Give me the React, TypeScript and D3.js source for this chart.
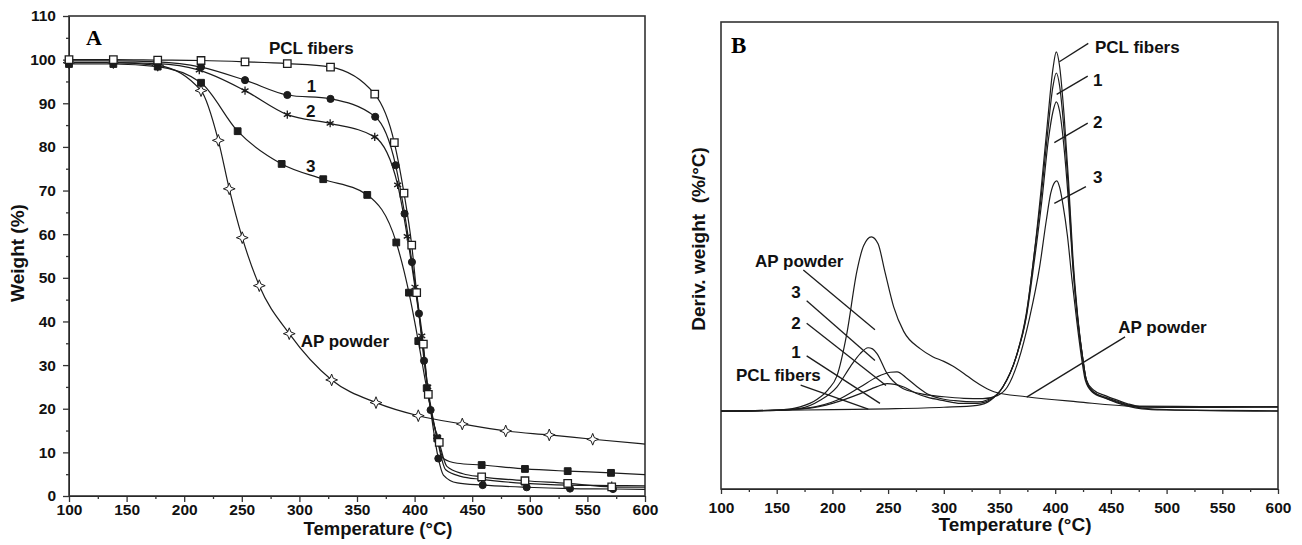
import React, { useEffect, useRef } from 'react';
import * as d3 from 'd3';

// ---- panel A: TGA, weight (%) vs temperature (°C) ----
// point = [temperature, weight, marker shown (1) or not (0)]
const pclFibersTga = [
  [100, 100, 1], [138.5, 100, 1], [177, 99.9, 1], [214.6, 99.8, 1], [252.8, 99.5, 1],
  [289.5, 99.1, 1], [327, 98.3, 1], [365.4, 92.1, 1], [382.4, 81, 1], [390.8, 69.4, 1],
  [397.5, 57.5, 1], [401.8, 46.6, 1], [407.6, 34.8, 1], [411.9, 23.3, 1], [421.4, 12.3, 1],
  [428, 6.8, 0], [442, 5.1, 0], [458.2, 4.4, 1], [495.8, 3.5, 1], [532.9, 2.9, 1],
  [571.1, 2.1, 1], [600, 2.0, 0],
];
const sample1Tga = [
  [100, 99.7, 1], [138.5, 99.7, 1], [177, 99.5, 1], [214.6, 98.3, 1], [252.8, 95.3, 1],
  [289.5, 91.9, 1], [327, 91.0, 1], [365.8, 86.9, 1], [383.5, 75.8, 1], [391.3, 64.7, 1],
  [397.7, 53.6, 1], [403.8, 41.8, 1], [408.2, 31.0, 1], [413.9, 19.7, 1], [420.6, 8.6, 1],
  [425, 4.8, 0], [437, 3.0, 0], [459.1, 2.5, 1], [497.3, 2.0, 1], [534.9, 1.7, 1],
  [572.2, 1.6, 1], [600, 1.5, 0],
];
const sample2Tga = [
  [100, 99.3, 1], [138.5, 99.3, 1], [177, 99.1, 1], [213.1, 97.6, 1], [252.8, 92.9, 1],
  [289.5, 87.4, 1], [326.7, 85.4, 1], [365.4, 82.3, 1], [385.3, 71.3, 1], [393.6, 59.5, 1],
  [400.3, 47.9, 1], [406.2, 36.7, 1], [411.4, 25.0, 1], [419.2, 13.6, 1], [427, 6.0, 0],
  [440, 4.5, 0], [458.2, 3.8, 1], [495.8, 2.9, 1], [532.9, 2.5, 1], [571.1, 2.4, 1],
  [600, 2.3, 0],
];
const sample3Tga = [
  [100, 99.0, 1], [138.5, 99.0, 1], [177, 98.4, 1], [214.6, 94.7, 1], [246.4, 83.6, 1],
  [284.6, 76.1, 1], [320.7, 72.6, 1], [358.9, 69.0, 1], [384.1, 58.1, 1], [395.1, 46.6, 1],
  [403.2, 35.5, 1], [410.5, 24.7, 1], [419.7, 13.2, 1], [425, 8.6, 0], [437, 7.5, 0],
  [458.2, 7.1, 1], [495.8, 6.2, 1], [532.9, 5.7, 1], [570.5, 5.3, 1], [600, 4.9, 0],
];
const apPowderTga = [
  [100, 99.3, 1], [138.5, 99.3, 1], [177, 98.7, 1], [214.6, 92.9, 1], [229.6, 81.5, 1],
  [239.1, 70.4, 1], [250.4, 59.2, 1], [265.2, 48.2, 1], [291.2, 37.2, 1], [328, 26.6, 1],
  [366.5, 21.4, 1], [403.2, 18.4, 1], [441.4, 16.5, 1], [479.1, 14.9, 1], [516.9, 14.0, 1],
  [554.6, 13.0, 1], [600, 11.9, 0],
];

// ---- panel B: DTG, derivative weight (arbitrary units) ----
const pclFibersDtg = [
  [100, 0], [150, 0.002], [200, 0.004], [250, 0.006], [300, 0.01], [330, 0.015], [342, 0.028],
  [353, 0.062], [365, 0.14], [374, 0.25], [381, 0.4], [387, 0.56], [393, 0.74], [398, 0.88],
  [401, 0.923], [404, 0.885], [408, 0.76], [412, 0.59], [416, 0.39], [420, 0.25], [425, 0.13],
  [428, 0.08], [434, 0.055], [445, 0.04], [455, 0.029], [465, 0.019], [478, 0.011],
  [500, 0.01], [550, 0.01], [600, 0.011],
];
const sample1Dtg = [
  [100, 0], [150, 0.003], [180, 0.008], [200, 0.02], [225, 0.045], [240, 0.063], [249, 0.071],
  [256, 0.069], [264, 0.062], [275, 0.046], [285, 0.036], [300, 0.027], [315, 0.02], [330, 0.02],
  [342, 0.03], [353, 0.062], [365, 0.14], [374, 0.245], [381, 0.4], [387, 0.54], [393, 0.71],
  [398, 0.835], [401, 0.869], [404, 0.835], [408, 0.72], [412, 0.565], [416, 0.375], [420, 0.245],
  [425, 0.13], [428, 0.078], [434, 0.05], [445, 0.036], [455, 0.026], [465, 0.017],
  [478, 0.011], [500, 0.01], [550, 0.01], [600, 0.011],
];
const sample2Dtg = [
  [100, 0], [150, 0.003], [177, 0.008], [204, 0.028], [225, 0.062], [240, 0.088], [252, 0.1],
  [258, 0.101], [267, 0.084], [276, 0.063], [285, 0.045], [298, 0.032], [310, 0.027], [330, 0.024],
  [342, 0.032], [353, 0.062], [365, 0.14], [374, 0.24], [381, 0.38], [388, 0.54], [394, 0.7],
  [398, 0.77], [401, 0.795], [404, 0.77], [408, 0.675], [412, 0.535], [416, 0.365], [420, 0.24],
  [425, 0.13], [428, 0.08], [434, 0.05], [445, 0.034], [455, 0.024], [465, 0.015],
  [478, 0.008], [500, 0.004], [550, 0.002], [600, 0.001],
];
const sample3Dtg = [
  [100, 0], [150, 0.002], [171, 0.007], [189, 0.028], [204, 0.062], [216, 0.114], [225, 0.148],
  [232, 0.163], [236, 0.16], [240, 0.148], [249, 0.097], [261, 0.062], [279, 0.045], [300, 0.037],
  [318, 0.033], [335, 0.032], [348, 0.04], [357, 0.062], [367, 0.13], [377, 0.24], [386, 0.37],
  [392, 0.49], [396, 0.56], [399.5, 0.588], [401.5, 0.592], [404, 0.575], [407, 0.53],
  [411, 0.45], [415, 0.34], [419, 0.24], [424, 0.13], [427, 0.08], [433, 0.05], [445, 0.033],
  [455, 0.022], [465, 0.013], [478, 0.006], [500, 0.003], [550, 0.001], [600, 0],
];
const apPowderDtg = [
  [100, 0], [130, 0.001], [153, 0.003], [171, 0.011], [186, 0.03], [196, 0.055], [204, 0.09],
  [213, 0.2], [222, 0.36], [228, 0.425], [235, 0.448], [241, 0.43], [247, 0.36], [255, 0.268],
  [264, 0.205], [279, 0.16], [290, 0.14], [300, 0.128], [308, 0.116], [318, 0.097],
  [327, 0.078], [336, 0.062], [345, 0.05], [374, 0.037], [420, 0.024], [470, 0.013],
  [530, 0.012], [600, 0.011],
];

const tempTicks = [100, 150, 200, 250, 300, 350, 400, 450, 500, 550, 600];
const tempMinorTicks = [125, 175, 225, 275, 325, 375, 425, 475, 525, 575];
const weightTicks = [0, 10, 20, 30, 40, 50, 60, 70, 80, 90, 100, 110];
const weightMinorTicks = [5, 15, 25, 35, 45, 55, 65, 75, 85, 95, 105];

const SANS = '"Liberation Sans", Arial, sans-serif';
const SERIF = '"Liberation Serif", "Times New Roman", serif';
const INK = '#1c1c1c';

// open 4-point star used for AP powder markers
const sparkle = {
  draw(ctx, size) {
    const r = Math.sqrt(size) * 0.62;
    const i = r * 0.28;
    ctx.moveTo(0, -r);
    ctx.lineTo(i, -i);
    ctx.lineTo(r, 0);
    ctx.lineTo(i, i);
    ctx.lineTo(0, r);
    ctx.lineTo(-i, i);
    ctx.lineTo(-r, 0);
    ctx.lineTo(-i, -i);
    ctx.closePath();
  },
};

const Chart = () => {
  const ref = useRef(null);

  useEffect(() => {
    const svg = d3.select(ref.current);
    svg.selectAll('*').remove();

    // ================= panel A =================
    const xA = d3.scaleLinear().domain([100, 600]).range([69, 645]);
    const yA = d3.scaleLinear().domain([0, 110]).range([496, 16]);
    const gA = svg.append('g');

    const axA = gA.append('g').attr('transform', 'translate(0,496)')
      .call(d3.axisBottom(xA).tickValues(tempTicks).tickSize(6).tickPadding(2).tickSizeOuter(0));
    gA.append('g').attr('transform', 'translate(0,496)')
      .call(d3.axisBottom(xA).tickValues(tempMinorTicks).tickSize(3).tickFormat(() => '').tickSizeOuter(0));
    const ayA = gA.append('g').attr('transform', 'translate(69,0)')
      .call(d3.axisLeft(yA).tickValues(weightTicks).tickSize(6).tickPadding(7).tickSizeOuter(0));
    gA.append('g').attr('transform', 'translate(69,0)')
      .call(d3.axisLeft(yA).tickValues(weightMinorTicks).tickSize(3).tickFormat(() => '').tickSizeOuter(0));

    gA.append('rect')
      .attr('x', 69).attr('y', 16).attr('width', 645 - 69).attr('height', 496 - 16)
      .attr('fill', 'none').attr('stroke', '#333').attr('stroke-width', 1.6);

    const lineA = d3.line().x((d) => xA(d[0])).y((d) => yA(d[1])).curve(d3.curveMonotoneX);
    const seriesA = [
      { data: apPowderTga, symbol: sparkle, size: 90, fill: '#fff', sw: 1 },
      { data: sample3Tga, symbol: d3.symbolSquare, size: 46, fill: INK, sw: 1 },
      { data: sample2Tga, symbol: d3.symbolAsterisk, size: 45, fill: 'none', sw: 1.3 },
      { data: sample1Tga, symbol: d3.symbolCircle, size: 40, fill: INK, sw: 1 },
      { data: pclFibersTga, symbol: d3.symbolSquare, size: 56, fill: '#fff', sw: 1.3 },
    ];
    seriesA.forEach((s) => {
      gA.append('path').attr('d', lineA(s.data)).attr('fill', 'none')
        .attr('stroke', INK).attr('stroke-width', 1.2);
    });
    seriesA.forEach((s) => {
      gA.selectAll(null)
        .data(s.data.filter((d) => d[2] === 1))
        .enter()
        .append('path')
        .attr('d', d3.symbol(s.symbol, s.size))
        .attr('transform', (d) => `translate(${xA(d[0])},${yA(d[1])})`)
        .attr('fill', s.fill)
        .attr('stroke', INK)
        .attr('stroke-width', s.sw);
    });

    // ================= panel B =================
    const xB = d3.scaleLinear().domain([100, 600]).range([721, 1278]);
    const yB = d3.scaleLinear().domain([-0.2, 1.0]).range([489, 22]);
    const gB = svg.append('g');

    const axB = gB.append('g').attr('transform', 'translate(0,489)')
      .call(d3.axisBottom(xB).tickValues(tempTicks).tickSize(5).tickPadding(8).tickSizeOuter(0));
    gB.append('g').attr('transform', 'translate(0,489)')
      .call(d3.axisBottom(xB).tickValues(tempMinorTicks).tickSize(3).tickFormat(() => '').tickSizeOuter(0));

    gB.append('rect')
      .attr('x', 721).attr('y', 22).attr('width', 1278 - 721).attr('height', 489 - 22)
      .attr('fill', 'none').attr('stroke', '#333').attr('stroke-width', 1.6);

    const lineB = d3.line().x((d) => xB(d[0])).y((d) => yB(d[1])).curve(d3.curveMonotoneX);
    [apPowderDtg, sample3Dtg, sample2Dtg, sample1Dtg, pclFibersDtg].forEach((data) => {
      gB.append('path').attr('d', lineB(data)).attr('fill', 'none')
        .attr('stroke', INK).attr('stroke-width', 1.2);
    });

    // styling of axes
    [axA, ayA, axB].forEach((a) => {
      a.select('.domain').remove();
      a.selectAll('text')
        .style('font-family', SANS).style('font-weight', 'bold')
        .style('font-size', '15.5px').attr('fill', '#111');
    });
    svg.selectAll('.tick line').attr('stroke', '#333').attr('stroke-width', 1.3);

    // ---- labels ----
    const label = (g, x, y, text, anchor = 'start', size = 17) =>
      g.append('text').attr('x', x).attr('y', y).text(text)
        .attr('text-anchor', anchor)
        .style('font-family', SANS).style('font-weight', 'bold')
        .style('font-size', `${size}px`).attr('fill', '#111');

    const leader = (g, sx, sy, x1, y1, x2, y2) =>
      g.append('line')
        .attr('x1', sx(x1)).attr('y1', sy(y1)).attr('x2', sx(x2)).attr('y2', sy(y2))
        .attr('stroke', INK).attr('stroke-width', 1.3);

    // panel A annotations
    label(gA, xA(273.6), yA(101.4), 'PCL fibers');
    label(gA, xA(306.3), yA(92.6), '1');
    label(gA, xA(305.7), yA(86.9), '2');
    label(gA, xA(305.7), yA(74.3), '3');
    label(gA, xA(301.1), yA(34.2), 'AP powder');

    // panel B annotations (text in data units + leader lines)
    label(gB, xB(435.7), yB(0.92), 'PCL fibers');
    leader(gB, xB, yB, 429.7, 0.945, 403.7, 0.898);
    label(gB, xB(433.9), yB(0.836), '1');
    leader(gB, xB, yB, 429.2, 0.861, 401.3, 0.814);
    label(gB, xB(433.9), yB(0.727), '2');
    leader(gB, xB, yB, 429.2, 0.74, 399.2, 0.69);
    label(gB, xB(433.9), yB(0.587), '3');
    leader(gB, xB, yB, 427.6, 0.577, 399.2, 0.534);

    label(gB, xB(130.5), yB(0.371), 'AP powder');
    leader(gB, xB, yB, 173.9, 0.363, 238.2, 0.209);
    label(gB, xB(171.6), yB(0.29), '3', 'end');
    leader(gB, xB, yB, 176.9, 0.284, 238.2, 0.13);
    label(gB, xB(171.6), yB(0.21), '2', 'end');
    leader(gB, xB, yB, 176.9, 0.226, 248.1, 0.066);
    label(gB, xB(171.6), yB(0.136), '1', 'end');
    leader(gB, xB, yB, 176.9, 0.142, 242.7, 0.02);
    label(gB, xB(113.5), yB(0.078), 'PCL fibers');
    leader(gB, xB, yB, 171.5, 0.067, 232.2, 0.005);
    label(gB, xB(456.6), yB(0.2), 'AP powder');
    leader(gB, xB, yB, 462.7, 0.191, 374.4, 0.036);

    // panel letters
    svg.append('text').attr('x', 86).attr('y', 45).text('A')
      .style('font-family', SERIF).style('font-weight', 'bold').style('font-size', '22px');
    svg.append('text').attr('x', 731).attr('y', 53).text('B')
      .style('font-family', SERIF).style('font-weight', 'bold').style('font-size', '23px');

    // axis titles
    label(svg, 378, 535, 'Temperature (°C)', 'middle', 18.5);
    label(svg, 1015, 531, 'Temperature (°C)', 'middle', 19);
    label(svg, 0, 0, 'Weight (%)', 'middle', 19)
      .attr('transform', 'translate(24,253) rotate(-90)');
    label(svg, 0, 0, 'Deriv. weight  (%/°C)', 'middle', 19)
      .style('white-space', 'pre')
      .attr('transform', 'translate(705,239) rotate(-90)');
  }, []);

  return (
    <svg
      ref={ref}
      width={1302}
      height={545}
      style={{ position: 'absolute', left: 0, top: 0, background: '#fff' }}
    />
  );
};

export default function App() {
  return <Chart />;
}
